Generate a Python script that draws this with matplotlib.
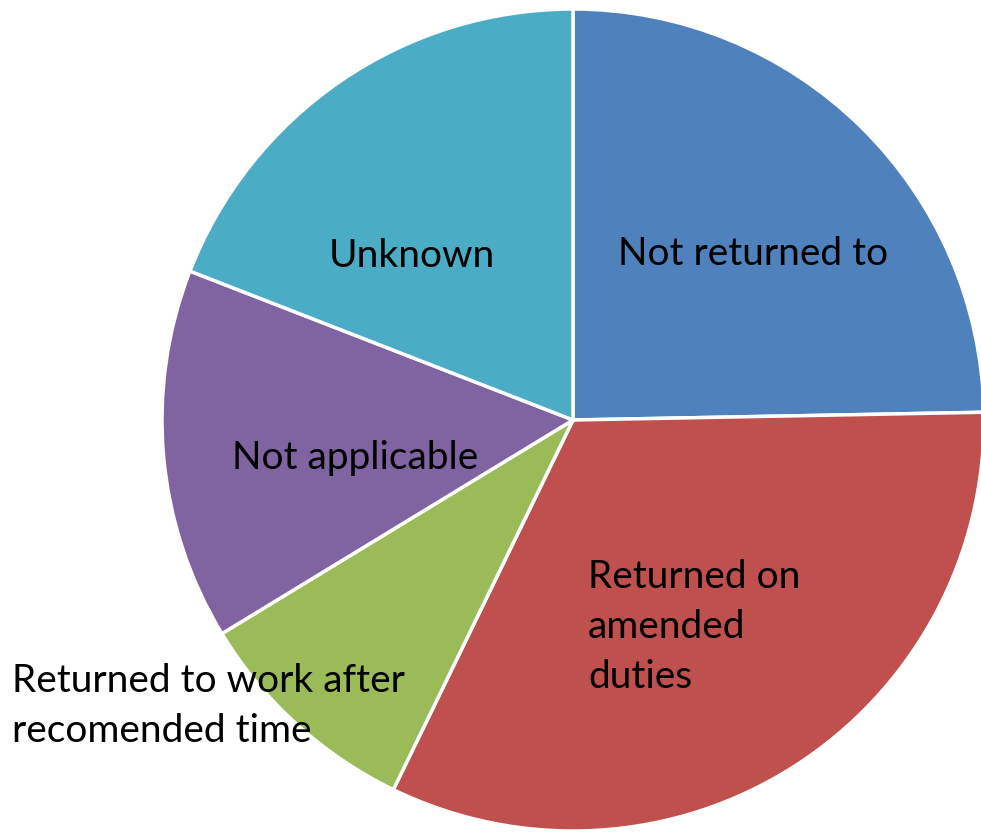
import matplotlib.pyplot as plt

categories = [
    "Not returned to",
    "Returned on\namended\nduties",
    "Returned to work after\nrecomended time",
    "Not applicable",
    "Unknown",
]
shares = [24.7, 32.5, 9.1, 14.6, 19.1]
colors = ["#4F81BD", "#C0504D", "#9BBB59", "#8064A2", "#4BACC6"]

W, H = 981, 835
fig = plt.figure(figsize=(W / 100, H / 100), dpi=100)
ax = fig.add_axes([0, 0, 1, 1])

cx, cy, r = 573, H - 420, 411
ax.pie(
    shares,
    colors=colors,
    startangle=90,
    counterclock=False,
    center=(cx, cy),
    radius=r,
    frame=True,
    wedgeprops=dict(edgecolor="white", linewidth=2.5),
)
ax.set_xlim(0, W)
ax.set_ylim(0, H)
ax.set_aspect("equal")
ax.axis("off")

font = dict(family="Lato", fontsize=28, color="black", linespacing=1.5)
# label placement, in pixel coords from the top-left
label_pos = [
    (753, 254, "center"),
    (588, 627, "left"),
    (12, 706, "left"),
    (355, 458, "center"),
    (412, 256, "center"),
]
for text, (x, y, ha) in zip(categories, label_pos):
    ax.text(x, H - y, text, ha=ha, va="center", **font)

fig.savefig("out.png", dpi=100)
